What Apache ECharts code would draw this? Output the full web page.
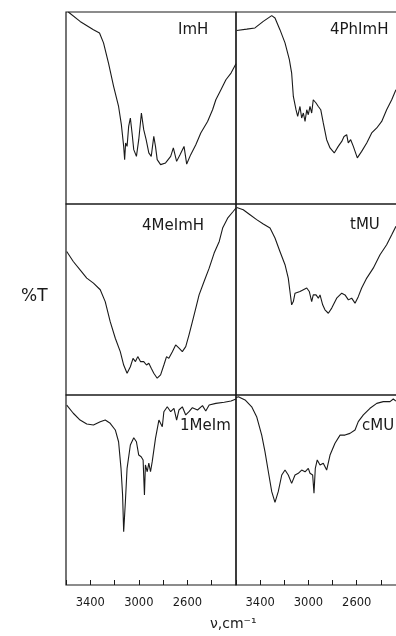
<!DOCTYPE html>
<html>
<head>
<meta charset="utf-8">
<script src="https://cdn.jsdelivr.net/npm/echarts@6/dist/echarts.min.js"></script>
<style>
html,body{margin:0;padding:0;background:#fff;}
#c{width:396px;height:636px;}
</style>
</head>
<body>
<div id="c"></div>
<script>
// [wavenumber cm-1, %T (0 = panel bottom, 100 = panel top)]
const spectrumImH = [[3581,100],[3484,95.1],[3374,90.8],[3324,89.1],[3291,83.9],[3250,73.4],[3208,61.3],[3167,50.8],[3144,41.3],[3125,30],[3117,23.1],[3109,31.8],[3097,30],[3084,40.4],[3070,44.8],[3056,37],[3042,28.3],[3020,24.8],[3001,33.5],[2979,47.4],[2960,38.7],[2940,33.5],[2918,26.6],[2898,24.8],[2877,35.2],[2863,30],[2849,23.1],[2821,20.5],[2780,21.4],[2738,24.8],[2716,29.2],[2689,22.2],[2661,25.7],[2628,30],[2606,20.8],[2573,25.7],[2531,30.9],[2490,37],[2434,43],[2393,49.1],[2366,54.3],[2324,59.5],[2283,64.7],[2241,68.2],[2200,73.1]];
const spectrum4PhImH = [[3594,90.4],[3511,91.1],[3443,91.7],[3374,95.1],[3304,98.1],[3277,96.9],[3236,90.8],[3194,83.9],[3158,75.2],[3139,68.2],[3125,56],[3103,49.1],[3089,45.6],[3070,50.8],[3056,44.8],[3042,47.4],[3028,43],[3014,49.1],[3001,46.5],[2987,50.8],[2973,47.4],[2960,54.3],[2937,52.6],[2918,50.8],[2898,49.1],[2877,42.2],[2849,33.5],[2821,29.2],[2786,26.6],[2753,30],[2724,32.6],[2705,35.2],[2683,36.1],[2670,31.8],[2650,33.5],[2628,30],[2595,24],[2559,27.4],[2517,31.8],[2476,37],[2434,39.6],[2393,43],[2352,49.1],[2310,54.3],[2275,59.5]];
const spectrum4MeImH = [[3594,75.1],[3540,69.9],[3484,65.5],[3429,61.2],[3374,58.6],[3318,55.1],[3277,48.9],[3236,38.4],[3194,29.7],[3153,22.7],[3125,15.7],[3097,11.4],[3070,14.8],[3048,19.2],[3028,17.5],[3009,20.1],[2987,17.5],[2960,17.5],[2937,15.7],[2918,16.6],[2898,14],[2877,11.4],[2849,8.8],[2821,10.5],[2794,15.7],[2772,20.1],[2753,19.2],[2724,22.7],[2697,26.2],[2669,24.5],[2642,22.7],[2614,25.3],[2587,31.5],[2559,38.4],[2531,45.5],[2504,52.4],[2463,59.4],[2421,66.4],[2380,74.3],[2338,80.4],[2310,87.4],[2269,92.6],[2227,95.8],[2200,97.9]];
const spectrumTMU = [[3594,98.2],[3540,97],[3484,94.4],[3429,91.8],[3374,89.5],[3318,87.4],[3277,82.2],[3236,75.1],[3194,68.2],[3167,61.2],[3153,54.2],[3139,47.2],[3125,48.9],[3111,53.3],[3070,54.2],[3042,55.1],[3014,56],[2993,54.2],[2973,48.9],[2960,52.4],[2937,52.4],[2918,50.7],[2904,52.4],[2882,47.2],[2863,44.6],[2835,42.8],[2807,45.5],[2766,50.7],[2724,53.3],[2697,52.4],[2669,49.8],[2642,50.7],[2614,48.1],[2587,51.5],[2559,56],[2517,61.2],[2463,66.4],[2407,73.4],[2352,78.7],[2310,83.9],[2275,88.3]];
const spectrum1MeIm = [[3594,94.7],[3540,90.4],[3484,86.8],[3429,84.7],[3374,84.2],[3318,85.9],[3277,86.8],[3236,85.1],[3194,81.6],[3167,75.4],[3147,61.4],[3134,47.4],[3125,28.1],[3111,43.8],[3097,61.4],[3070,73.7],[3042,77.5],[3020,75.4],[3001,68.4],[2981,67.5],[2965,65.8],[2954,47.4],[2946,63.2],[2931,59.6],[2918,64.1],[2904,59.6],[2890,64.9],[2863,77.2],[2835,86.8],[2807,83.3],[2794,91.2],[2766,93.8],[2738,91.2],[2711,93],[2689,86.8],[2670,92.1],[2642,93.8],[2614,89.5],[2587,91.2],[2559,93.3],[2517,92.1],[2476,94.4],[2449,91.6],[2421,94.7],[2366,95.6],[2297,96.2],[2241,96.8],[2200,97.9]];
const spectrumCMU = [[3600,98.6],[3581,99.1],[3525,97.4],[3470,93.8],[3429,88.6],[3387,78.9],[3360,70.2],[3332,59.6],[3304,49.1],[3277,43.5],[3250,49.1],[3221,57.9],[3194,60.5],[3167,57.9],[3139,53.5],[3111,57.9],[3084,58.8],[3056,60.5],[3028,59.6],[3001,61.4],[2987,58.8],[2965,57.9],[2954,48.3],[2943,61.4],[2927,65.8],[2904,63.2],[2877,64.1],[2849,60.5],[2821,68.4],[2780,74.6],[2738,78.9],[2697,78.9],[2656,79.8],[2614,81.6],[2587,86],[2545,89.5],[2490,93],[2434,95.6],[2380,96.5],[2324,96.5],[2297,97.9],[2275,96.8]];

const panelNames = ['ImH','4PhImH','4MeImH','tMU','1MeIm','cMU'];
const tickLabels = [3400, 3000, 2600];
const wnMin = 2200, wnMax = 3600, wnStep = 200;

const spectra = [spectrumImH, spectrum4PhImH, spectrum4MeImH, spectrumTMU, spectrum1MeIm, spectrumCMU];

const ink = '#1a1a1a';
const rows = [{top:12,height:192},{top:204,height:191},{top:395,height:190}];
const cols = [{left:66,width:170},{left:236,width:169}];

const grids = [], xAxes = [], yAxes = [], series = [];
spectra.forEach((d, i) => {
  const r = rows[Math.floor(i/2)], c = cols[i%2];
  const bottomRow = Math.floor(i/2) === 2;
  grids.push({top:r.top, height:r.height, left:c.left, width:c.width, show:true,
    borderColor:ink, borderWidth:1.2, backgroundColor:'transparent', containLabel:false,
    outerBoundsMode:'none'});
  xAxes.push({type:'value', gridIndex:i, min:wnMin, max:wnMax, interval:wnStep, inverse:true,
    axisLine:{show:false}, splitLine:{show:false},
    axisTick:{show:bottomRow, inside:true, length:5, lineStyle:{color:ink, width:1}},
    axisLabel:{show:bottomRow, margin:12, color:ink, fontSize:11.5, fontFamily:'DejaVu Sans',
      formatter: v => tickLabels.includes(v) ? String(v) : ''}});
  yAxes.push({type:'value', gridIndex:i, min:0, max:100, show:false});
  series.push({type:'line', xAxisIndex:i, yAxisIndex:i, data:d, showSymbol:false, smooth:false,
    lineStyle:{color:ink, width:1.1}, silent:true});
});

const labelPos = [[178,32],[330,32],[142,228],[350,227],[180,428],[362,428]];
const graphics = panelNames.map((t, i) => ({type:'text', left:labelPos[i][0], top:labelPos[i][1]-9,
  style:{text:t, fill:ink, font:'15px "DejaVu Sans"'}}));
graphics.push({type:'text', left:21, top:288, style:{text:'%T', fill:ink, font:'17px "DejaVu Sans"'}});
graphics.push({type:'text', left:210, top:617, style:{text:'ν,cm⁻¹', fill:ink, font:'14px "DejaVu Sans"'}});

const chart = echarts.init(document.getElementById('c'), null, {renderer:'canvas'});
chart.setOption({animation:false, backgroundColor:'#fff', grid:grids, xAxis:xAxes, yAxis:yAxes, series:series, graphic:graphics});
</script>
</body>
</html>
